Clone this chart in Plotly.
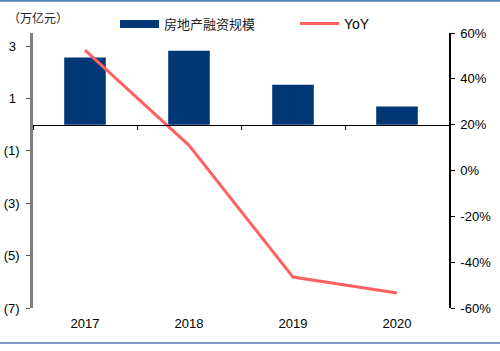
import plotly.graph_objects as go

years = ["2017", "2018", "2019", "2020"]
financing = [2.56, 2.82, 1.52, 0.69]   # 万亿元
yoy = [52.5, 11.0, -46.5, -53.5]         # %

left_ticks = [3, 1, -1, -3, -5, -7]
left_text = ["3\u2008", "1\u2008", "(1)", "(3)", "(5)", "(7)"]
right_ticks = [60, 40, 20, 0, -20, -40, -60]
right_text = [f"{v}%" for v in right_ticks]

NAVY = "#003777"
RED = "#FF6161"
FONT = "Liberation Sans, Arial, sans-serif"
CJK = "Noto Sans CJK SC, sans-serif"

fig = go.Figure()
fig.add_trace(go.Bar(x=years, y=financing, marker=dict(color=NAVY, line=dict(width=0)),
                     width=0.4, xaxis="x", yaxis="y", showlegend=False))
fig.add_trace(go.Scatter(x=years, y=yoy, mode="lines", line=dict(color=RED, width=3),
                         xaxis="x2", yaxis="y2", showlegend=False))

ymin, ymax = -7, 3.5
zero_pos = (0 - ymin) / (ymax - ymin)

fig.update_layout(
    width=500, height=351, autosize=False,
    margin=dict(l=33, r=51, t=33, b=43, pad=0, autoexpand=False),
    paper_bgcolor="white", plot_bgcolor="white",
    font=dict(family=FONT, size=13, color="black"),
    bargap=0.6,
    xaxis=dict(type="category", categoryarray=years, categoryorder="array",
               range=[-0.5, 3.5], anchor="free", position=zero_pos, automargin=False,
               showline=True, linecolor="black", linewidth=1,
               ticks="outside", tickson="boundaries", ticklen=4, tickcolor="black",
               showticklabels=False, showgrid=False, zeroline=False),
    xaxis2=dict(type="category", categoryarray=years, categoryorder="array",
                range=[-0.5, 3.5], overlaying="x", anchor="y", side="bottom",
                automargin=False,
                showline=False, ticks="", showgrid=False, zeroline=False,
                ticklabelstandoff=6,
                tickfont=dict(family=FONT, size=13, color="black")),
    yaxis=dict(range=[ymin, ymax], tickvals=left_ticks, ticktext=left_text,
               automargin=False,
               showline=True, linecolor="#7f7f7f", linewidth=2.5,
               ticks="outside", ticklen=4, tickcolor="#555555",
               showgrid=False, zeroline=False, ticklabelstandoff=4,
               tickfont=dict(family=FONT, size=13, color="black")),
    yaxis2=dict(range=[-60, 60], tickvals=right_ticks, ticktext=right_text,
                overlaying="y", side="right", anchor="x", automargin=False,
                showline=True, linecolor="black", linewidth=1.5,
                ticks="outside", ticklen=4, tickcolor="black",
                showgrid=False, zeroline=False, ticklabelstandoff=3,
                tickfont=dict(family=FONT, size=13, color="black")),
)

W, H = 416.0, 275.0  # plot area size in px
def px(x):
    return (x - 33) / W
def py(y):
    return (308 - y) / H

shapes = [
    dict(type="rect", xref="paper", yref="paper", x0=px(120), x1=px(159), y0=py(28), y1=py(20),
         fillcolor=NAVY, line=dict(width=0)),
    dict(type="line", xref="paper", yref="paper", x0=px(300), x1=px(339), y0=py(23.5), y1=py(23.5),
         line=dict(color=RED, width=3)),
    dict(type="line", xref="paper", yref="paper", x0=px(0), x1=px(500), y0=py(0.8), y1=py(0.8),
         line=dict(color="#4F7DB5", width=2)),
    dict(type="line", xref="paper", yref="paper", x0=px(0), x1=px(500), y0=py(343), y1=py(343),
         line=dict(color="#4F7DB5", width=1.5)),
]
fig.update_layout(shapes=shapes)

annotations = [
    dict(text="房地产融资规模", xref="paper", yref="paper", x=px(162), y=py(23.5),
         xanchor="left", yanchor="middle", showarrow=False,
         font=dict(family=CJK, size=13, color="#222222")),
    dict(text="YoY", xref="paper", yref="paper", x=px(342), y=py(23.5),
         xanchor="left", yanchor="middle", showarrow=False,
         font=dict(family=FONT, size=14, color="black")),
    dict(text="（万亿元）", xref="paper", yref="paper", x=px(6), y=py(17),
         xanchor="left", yanchor="middle", showarrow=False,
         font=dict(family=CJK, size=12, color="#222222")),
]
fig.update_layout(annotations=annotations)

fig.write_html("out.html")
